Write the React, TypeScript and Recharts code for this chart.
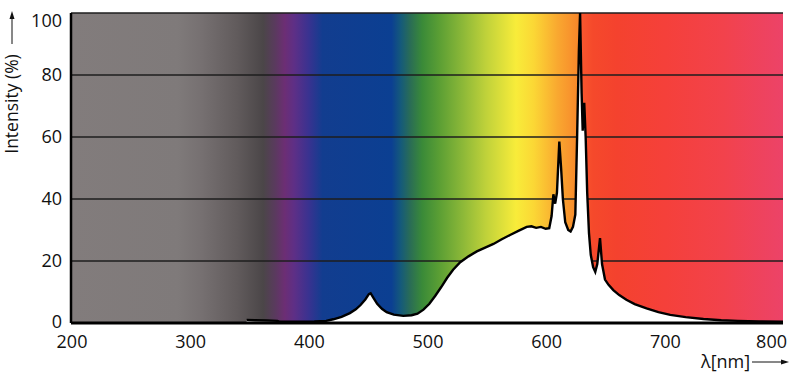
import React from 'react';
import { AreaChart, Area, XAxis, YAxis, CartesianGrid } from 'recharts';

// Wavelength (nm) and relative intensity (%)
const wavelengths = [
  348, 355, 365, 374, 376, 390, 405, 415, 421, 428, 435, 440, 444, 448, 451, 452.5,
  455, 458, 462, 466, 472, 480, 487, 492, 497, 502, 507, 512, 517, 522, 528, 535,
  542, 549, 556, 563, 570, 577, 584, 588, 592, 596, 600, 603, 605, 606.5, 608, 609.5,
  611.5, 613, 614.5, 616.5, 619, 621, 623, 625, 626.5, 628, 629, 630.3, 631.2, 632.5,
  633.7, 635, 636.5, 638, 640, 641.8, 643.5, 645.8, 647.5, 650, 653, 657, 662, 668,
  675, 685, 695, 705, 718, 733, 748, 762, 780, 800,
];
const intensities = [
  1.0, 0.9, 0.8, 0.7, 0.4, 0.4, 0.5, 0.7, 1.2, 2.0, 3.2, 4.4, 5.8, 7.6, 9.3, 9.6,
  8.0, 6.2, 4.6, 3.5, 2.7, 2.3, 2.5, 3.0, 4.3, 6.2, 8.8, 11.6, 14.6, 17.2, 19.6, 21.5,
  23.1, 24.3, 25.5, 27.0, 28.4, 29.7, 31.0, 31.2, 30.7, 31.0, 30.4, 30.6, 34.5, 41.5, 38.5, 42,
  58.5, 50, 40, 32.5, 30, 29.5, 31, 35, 60, 88, 100, 74, 62, 71,
  60, 42, 29, 22, 18, 16.5, 19, 27.4, 19, 14, 12.3, 10.6, 9, 7.5,
  6.1, 4.7, 3.5, 2.6, 1.9, 1.3, 0.9, 0.7, 0.5, 0.4,
];

const xTicks = [200, 300, 400, 500, 600, 700, 800];
const yTicks = [0, 20, 40, 60, 80, 100];

// Background spectrum: wavelength stops and colours
const stopNm = [200, 290, 310, 340, 362, 372, 380, 388, 400, 412, 470, 478, 486, 496, 510, 530, 550, 575, 590, 610, 628.5, 629, 640, 660, 700, 750, 800];
const stopColors = [
  '#827c7c', '#7f7a7a', '#767071', '#615b5c', '#4b4648', '#5a3a5e', '#6c2e74', '#5e2f86',
  '#3a3290', '#123d8f', '#0b3f92', '#155a7a', '#2a6d55', '#3a8a38', '#5a9e34', '#8cb838',
  '#c0d23a', '#f8ec3a', '#fbd735', '#f9a830', '#f7852a', '#f9582e', '#f5492b', '#f4422e',
  '#f5403a', '#f2424c', '#ec4368',
];

const data = wavelengths.map((w, i) => ({ w, v: intensities[i] }));

const FONT = '"Open Sans", "Noto Sans", sans-serif';
const X_MIN = xTicks[0];
const X_MAX = xTicks[xTicks.length - 1];

function XTick(props: any) {
  const { x, y, payload } = props;
  const last = payload.value === X_MAX;
  return (
    <text
      x={last ? x + 4 : x + 1}
      y={y}
      dy={25}
      textAnchor={last ? 'end' : 'middle'}
      fontSize={18}
      fontFamily={FONT}
      fill="#111"
    >
      {payload.value}
    </text>
  );
}

function YTick(props: any) {
  const { x, y, payload } = props;
  const top = payload.value === 100;
  const bottom = payload.value === 0;
  return (
    <text
      x={x - 9}
      y={y}
      dy={top ? 14 : bottom ? 5 : 6}
      textAnchor="end"
      fontSize={18}
      fontFamily={FONT}
      fill="#111"
    >
      {payload.value}
    </text>
  );
}

function YLabel(props: any) {
  const vb = props.viewBox || { x: 0, y: 13 };
  const cx = vb.x + 18;
  const cy = vb.y + 91;
  const ax = vb.x + 12;
  return (
    <g>
      <text
        x={cx}
        y={cy}
        transform={`rotate(-90, ${cx}, ${cy})`}
        textAnchor="middle"
        fontSize={17.5}
        fontFamily={FONT}
        fill="#111"
      >
        Intensity (%)
      </text>
      <line x1={ax} y1={vb.y + 31} x2={ax} y2={vb.y + 3} stroke="#111" strokeWidth={1} />
      <polygon points={`${ax},${vb.y - 2} ${ax - 2.5},${vb.y + 6} ${ax + 2.5},${vb.y + 6}`} fill="#111" />
    </g>
  );
}

function XLabel(props: any) {
  const vb = props.viewBox || { x: 71, y: 323, width: 712, height: 65 };
  const right = vb.x + vb.width;
  const ty = vb.y + 45;
  const ly = vb.y + 39;
  return (
    <g>
      <text x={right - 82} y={ty} textAnchor="start" fontSize={18} fontFamily={FONT} fill="#111">
        λ[nm]
      </text>
      <line x1={right - 31} y1={ly} x2={right - 1} y2={ly} stroke="#111" strokeWidth={1} />
      <polygon points={`${right + 6},${ly} ${right - 2},${ly - 2.5} ${right - 2},${ly + 2.5}`} fill="#111" />
    </g>
  );
}

export default function App() {
  return (
    <div style={{ position: 'absolute', left: 0, top: 0, width: 800, height: 388, background: '#fff' }}>
      <AreaChart width={800} height={388} data={data} margin={{ top: 13, right: 17, bottom: 0, left: 0 }}>
        <defs>
          <linearGradient id="spec" x1="0" y1="0" x2="1" y2="0">
            {stopNm.map((nm, i) => (
              <stop key={i} offset={(nm - X_MIN) / (X_MAX - X_MIN)} stopColor={stopColors[i]} />
            ))}
          </linearGradient>
        </defs>
        <CartesianGrid vertical={false} fill="url(#spec)" fillOpacity={1} stroke="#1e1e1e" strokeWidth={1.5} />
        <XAxis
          dataKey="w"
          type="number"
          domain={[X_MIN, X_MAX]}
          ticks={xTicks}
          height={65}
          tickLine={false}
          tickSize={0}
          tickMargin={0}
          tick={<XTick />}
          axisLine={{ stroke: '#000', strokeWidth: 3 }}
          label={<XLabel />}
          interval={0}
        />
        <XAxis
          xAxisId="t"
          orientation="top"
          type="number"
          domain={[X_MIN, X_MAX]}
          height={0}
          tick={false}
          tickLine={false}
          axisLine={{ stroke: '#1a1a1a', strokeWidth: 2 }}
        />
        <YAxis
          type="number"
          domain={[0, 100]}
          ticks={yTicks}
          width={71}
          tickLine={false}
          tickSize={0}
          tickMargin={0}
          tick={<YTick />}
          axisLine={{ stroke: '#000', strokeWidth: 2.5 }}
          label={<YLabel />}
          interval={0}
        />
        <YAxis
          yAxisId="r"
          orientation="right"
          type="number"
          domain={[0, 100]}
          width={0}
          tick={false}
          tickLine={false}
          axisLine={{ stroke: '#1a1a1a', strokeWidth: 2 }}
        />
        <Area
          type="linear"
          dataKey="v"
          stroke="#000"
          strokeWidth={2.4}
          fill="#ffffff"
          fillOpacity={1}
          isAnimationActive={false}
          dot={false}
          activeDot={false}
        />
      </AreaChart>
    </div>
  );
}
